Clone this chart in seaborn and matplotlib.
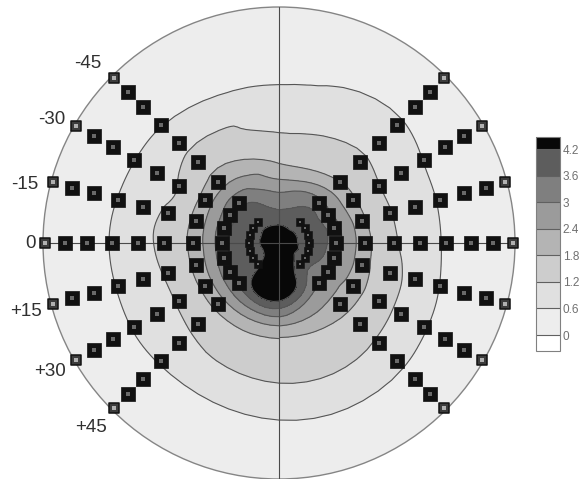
import numpy as np
import pandas as pd
import matplotlib
matplotlib.use("Agg")
import matplotlib.pyplot as plt
import matplotlib.tri as mtri
from matplotlib.colors import ListedColormap, BoundaryNorm
from matplotlib.patches import Circle
import seaborn as sns

# ---------------- data ----------------
# meridian angles (deg, counter-clockwise from the right horizontal)
meridians = [-45, -30, -15, 0, 15, 30, 45, 90, 135, 150, 165, 180, 195, 210, 225, 270]
# meridians carrying measurement squares (90 / 270 are unmarked field readings)
marked = [True, True, True, True, True, True, True, False,
          True, True, True, True, True, True, True, False]
# radial positions of the rings (px from centre, circle radius 236)
radii = [0, 30, 57, 86, 115, 141, 167, 192, 214, 234]
# field value per meridian (rows) and ring (columns)
field_values = [
    [4.5, 3.93, 2.97, 2.10, 1.54, 1.12, 0.70, 0.47, 0.33, 0.20],  # -45
    [4.5, 3.89, 3.04, 2.10, 1.51, 1.03, 0.64, 0.45, 0.32, 0.20],  # -30
    [4.5, 3.96, 3.21, 2.07, 1.43, 0.96, 0.59, 0.42, 0.30, 0.20],  # -15
    [4.5, 3.95, 3.27, 2.04, 1.28, 0.89, 0.55, 0.40, 0.30, 0.20],  # 0
    [4.5, 3.96, 3.30, 1.97, 1.23, 0.88, 0.56, 0.40, 0.30, 0.20],  # 15
    [4.5, 3.94, 3.18, 1.90, 1.22, 0.90, 0.59, 0.42, 0.30, 0.20],  # 30
    [4.5, 3.92, 3.20, 1.83, 1.32, 0.97, 0.66, 0.45, 0.32, 0.20],  # 45
    [4.5, 3.75, 2.72, 1.59, 1.10, 0.78, 0.50, 0.38, 0.28, 0.20],  # 90
    [4.5, 3.98, 3.43, 2.10, 1.52, 0.96, 0.58, 0.42, 0.30, 0.20],  # 135
    [4.5, 3.97, 3.36, 2.03, 1.24, 0.90, 0.59, 0.42, 0.30, 0.20],  # 150
    [4.5, 3.97, 3.35, 2.00, 1.31, 0.93, 0.61, 0.42, 0.30, 0.20],  # 165
    [4.5, 3.98, 3.36, 1.99, 1.36, 0.96, 0.63, 0.42, 0.30, 0.20],  # 180
    [4.5, 3.97, 3.38, 1.98, 1.28, 0.93, 0.62, 0.42, 0.30, 0.20],  # 195
    [4.5, 3.97, 3.49, 2.00, 1.26, 0.93, 0.63, 0.44, 0.30, 0.20],  # 210
    [4.5, 4.10, 3.65, 2.05, 1.35, 0.96, 0.63, 0.44, 0.30, 0.20],  # 225
    [4.5, 4.70, 4.30, 2.20, 1.63, 1.18, 0.72, 0.45, 0.32, 0.20],  # 270
]
levels = [0, 0.6, 1.2, 1.8, 2.4, 3.0, 3.6, 4.2]
level_labels = ["0", "0.6", "1.2", "1.8", "2.4", "3", "3.6", "4.2"]
axis_labels = ["-45", "-30", "-15", "0", "+15", "+30", "+45"]

# ---------------- style ----------------
band_colors = ["#ededed", "#e0e0e0", "#cdcdcd", "#b4b4b4", "#9b9b9b", "#7f7f7f", "#5d5d5d"]
over_color = "#080808"
label_pos = [(-191, 180), (-227, 124), (-254, 59), (-249, 0), (-253, -68), (-229, -128), (-188, -184)]
R = 236

sns.set_style("white")
plt.rcParams['font.family'] = ['Liberation Sans', 'DejaVu Sans']

fig = plt.figure(figsize=(5.8, 4.79), dpi=100)
ax = fig.add_axes([0, 0, 1, 1])
ax.set_xlim(-279, 301)
ax.set_ylim(-236, 243)
ax.axis('off')

ax.add_patch(Circle((0, 0), R, facecolor=band_colors[0], edgecolor='#858585', lw=1.0, zorder=0))

# field triangulated in (angle, radius) space, wrapped around the circle
ext = ([(m - 360, i) for i, m in enumerate(meridians) if m >= 165]
       + [(m, i) for i, m in enumerate(meridians)]
       + [(m + 360, i) for i, m in enumerate(meridians) if m <= 15])
us, vs, zs = [], [], []
for m, i in ext:
    for j, r in enumerate(radii):
        us.append(m / 15.0)
        vs.append(r / 28.0)
        zs.append(field_values[i][j])
tri_p = mtri.Triangulation(np.array(us), np.array(vs))
refiner = mtri.UniformTriRefiner(tri_p)
tri_r, z_r = refiner.refine_field(np.array(zs), subdiv=3)
th = np.deg2rad(tri_r.x * 15.0)
rr = tri_r.y * 28.0
X = rr * np.cos(th)
Y = rr * np.sin(th)
tri_c = mtri.Triangulation(X, Y, tri_r.triangles)
cen = tri_r.x[tri_r.triangles].mean(axis=1) * 15.0
tri_c.set_mask((cen < -90) | (cen > 270))

cmap = ListedColormap(band_colors)
cmap.set_under('white')
cmap.set_over(over_color)
norm = BoundaryNorm(levels, cmap.N)
cf = ax.tricontourf(tri_c, z_r, levels=levels, cmap=cmap, norm=norm, extend='both', zorder=1)
ax.tricontour(tri_c, z_r, levels=levels[1:], colors='#555555', linewidths=0.8, zorder=2)

# cross lines
ax.plot([-R, R], [0, 0], color='#4a4a4a', lw=0.8, zorder=3)
ax.plot([0, 0], [-R, R], color='#4a4a4a', lw=0.8, zorder=3)

# measurement squares
rows = []
for i, m in enumerate(meridians):
    if not marked[i]:
        continue
    a = np.deg2rad(m)
    for r in radii[1:]:
        rows.append(dict(x=r * np.cos(a), y=r * np.sin(a), r=r))
pts = pd.DataFrame(rows)
inner = pts[pts.r == radii[1]]
mid = pts[(pts.r > radii[1]) & (pts.r < radii[-1])]
outer = pts[pts.r == radii[-1]]
sns.scatterplot(data=inner, x='x', y='y', marker='s', s=30, color='#111111',
                edgecolor='#111111', linewidth=0.4, ax=ax, legend=False, zorder=4)
sns.scatterplot(data=inner, x='x', y='y', marker='s', s=3, color='#6a6a6a',
                linewidth=0, ax=ax, legend=False, zorder=5)
sns.scatterplot(data=mid, x='x', y='y', marker='s', s=88, color='#111111',
                edgecolor='#111111', linewidth=0.5, ax=ax, legend=False, zorder=4)
sns.scatterplot(data=mid, x='x', y='y', marker='s', s=7, color='#6a6a6a',
                linewidth=0, ax=ax, legend=False, zorder=5)
sns.scatterplot(data=outer, x='x', y='y', marker='s', s=42, color='#3c3c3c',
                edgecolor='#111111', linewidth=1.1, ax=ax, legend=False, zorder=4)
sns.scatterplot(data=outer, x='x', y='y', marker='s', s=7, color='#b0b0b0',
                linewidth=0, ax=ax, legend=False, zorder=5)

for txt, (lx, ly) in zip(axis_labels, label_pos):
    ax.text(lx, ly, txt, ha='center', va='center', fontsize=13.5, color='#303030')

# colour bar
cax = fig.add_axes([536 / 580, (479 - 351) / 479, 24 / 580, 214 / 479])
cb = fig.colorbar(cf, cax=cax, ticks=levels, extend='both', extendrect=True,
                  extendfrac=(16 / 186, 12 / 186), drawedges=True)
cb.set_ticklabels(level_labels)
cb.outline.set_edgecolor('#808080')
cb.outline.set_linewidth(0.8)
cb.dividers.set_color('#606060')
cb.dividers.set_linewidth(0.8)
cb.ax.tick_params(length=0, labelsize=8.5, labelcolor='#707070', pad=2)

fig.savefig('out.png', dpi=100)
